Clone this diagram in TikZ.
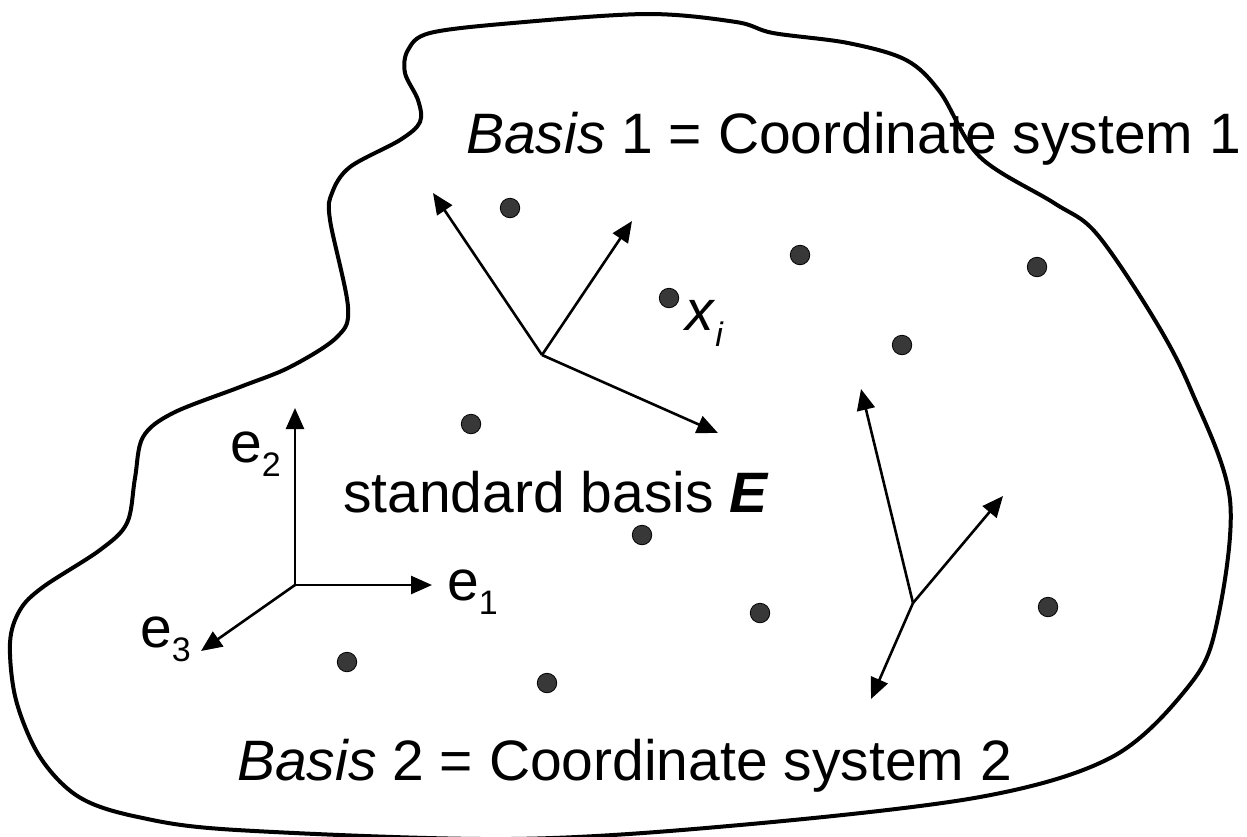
\documentclass[tikz,border=0pt]{standalone}
\usepackage{fontspec}
\setmainfont{Liberation Sans}
\usetikzlibrary{arrows.meta}
\newcommand{\lowsub}[2][14pt]{\raisebox{-#1}{\fontsize{34}{34}\selectfont #2}}
\tikzset{
  blob/.style={line width=4pt, line join=round},
  vec/.style={line width=2.6pt, -{Triangle[length=21pt,width=18pt]}},
  pt/.style={circle, fill=black!78, draw=black, line width=0.8pt, minimum size=19.5pt, inner sep=0pt},
  lbl/.style={anchor=base west, inner sep=0pt, font=\fontsize{57}{68}\selectfont},
}
\begin{document}
\begin{tikzpicture}[x=1pt, y=-1pt]
\useasboundingbox (0,0) rectangle (1247,836);

% outline
\draw[blob] plot[smooth cycle, tension=0.55] coordinates {
 (430,33) (513,23) (647,14) (736,22) (773,33) (848,43) (906,60) (940,92)
 (980,157) (1054,203) (1096,233) (1153,317) (1191,390) (1230,500)
 (1216,627) (1188,687) (1112,757) (980,797) (740,825) (510,839)
 (237,830) (138,817) (79,797) (40,757) (16,700) (10,643) (20,610)
 (43,587) (100,550) (127,523) (135,478) (143,437) (173,413) (240,387)
 (290,367) (337,337) (348,307) (330,220) (332,193) (350,167) (400,140)
 (420,122) (418,100) (405,73) (408,50)};

% standard basis
\coordinate (oE) at (295,585);
\coordinate (e1t) at (432,585);
\coordinate (e2t) at (295,408);
\coordinate (e3t) at (201,651);
\draw[vec] (oE) -- (e1t);
\draw[vec] (oE) -- (e2t);
\draw[vec] (oE) -- (e3t);
\node[lbl] (e1) at (447,600) {e\lowsub{1}};
\node[lbl] (e2) at (230,462) {e\lowsub{2}};
\node[lbl] (e3) at (140,647) {e\lowsub{3}};

% coordinate system 1
\coordinate (o1) at (542,355);
\coordinate (a1) at (433,193);
\coordinate (b1) at (632,221);
\coordinate (c1) at (718,433);
\draw[vec] (o1) -- (a1);
\draw[vec] (o1) -- (b1);
\draw[vec] (o1) -- (c1);

% coordinate system 2
\coordinate (o2) at (913,603);
\coordinate (a2) at (861,389);
\coordinate (b2) at (1003,496);
\coordinate (c2) at (871,699);
\draw[vec] (o2) -- (a2);
\draw[vec] (o2) -- (b2);
\draw[vec] (o2) -- (c2);

% points
\node[pt] (p1) at (510,208) {};
\node[pt] (p2) at (669,298) {};
\node[pt] (p3) at (800,255) {};
\node[pt] (p4) at (1037,267) {};
\node[pt] (p5) at (902,345) {};
\node[pt] (p6) at (471,424) {};
\node[pt] (p7) at (642,535) {};
\node[pt] (p8) at (760,613) {};
\node[pt] (p9) at (1048,607) {};
\node[pt] (p10) at (347,662) {};
\node[pt] (p11) at (547,683) {};

% labels
\node[lbl] (xi) at (685,330) {\textit{x}\lowsub[16pt]{\textit{i}}};
\node[lbl] (t1) at (466,153) {\textit{Basis} 1 = Coordinate system 1};
\node[lbl] (tE) at (343,512) {standard basis \textbf{\textit{E}}};
\node[lbl] (t2) at (237,780) {\textit{Basis} 2 = Coordinate system 2};
\end{tikzpicture}
\end{document}
